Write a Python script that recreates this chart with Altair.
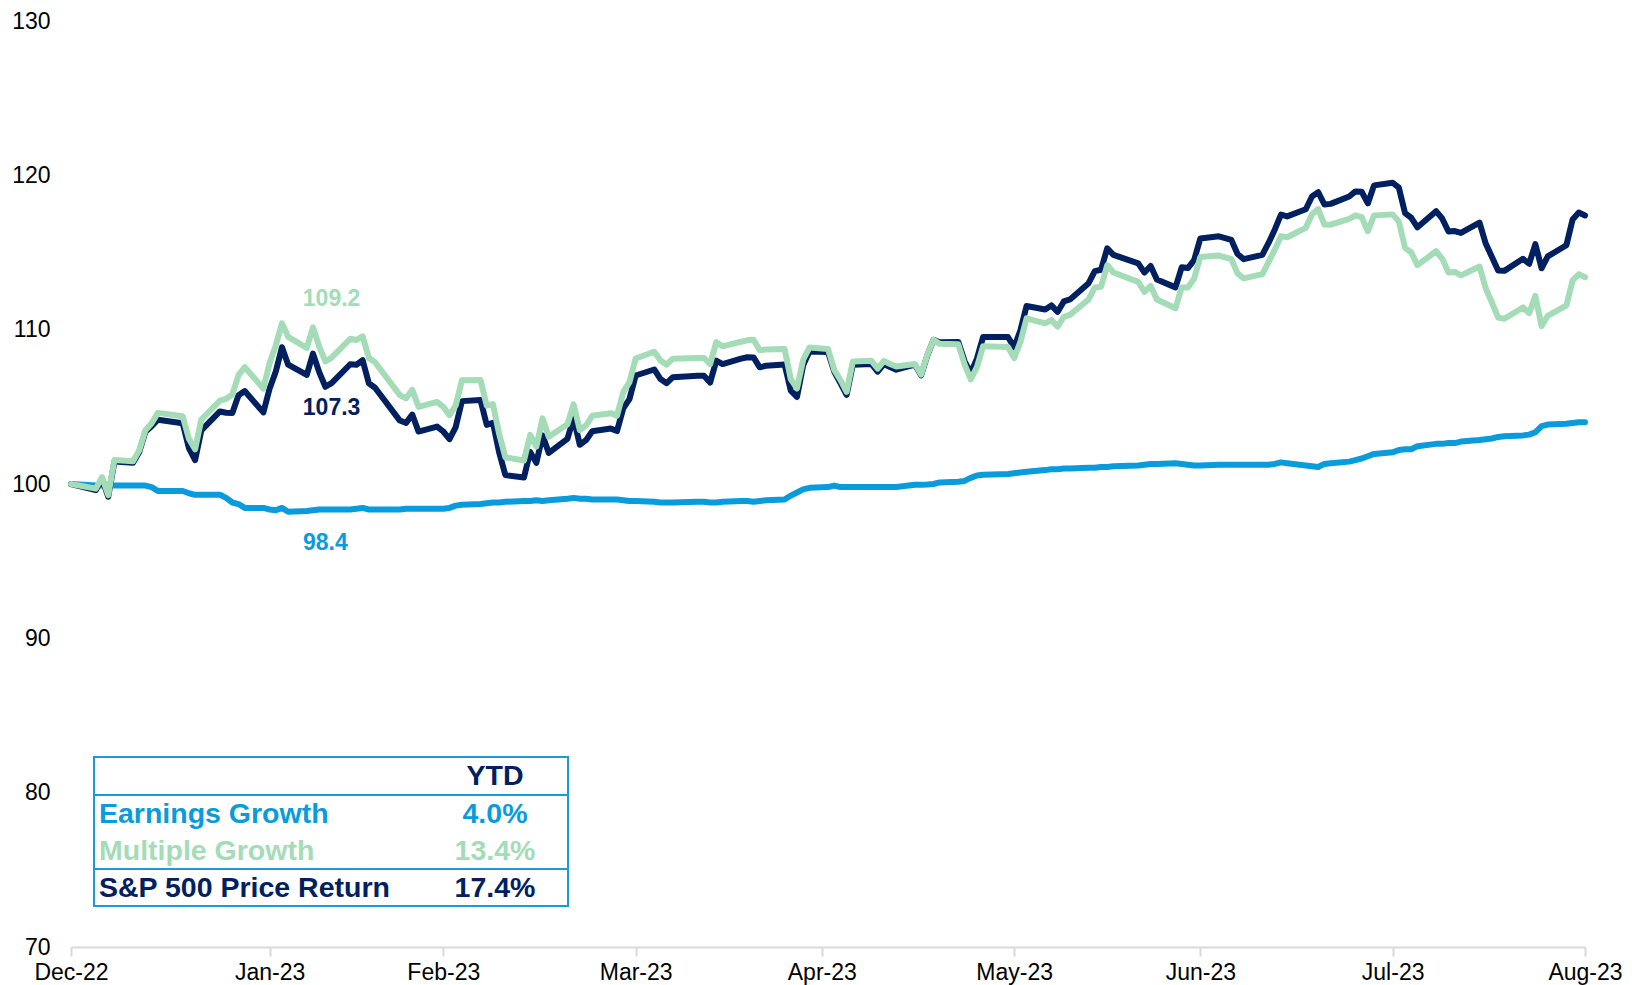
import pandas as pd
import altair as alt

NAVY = "#002060"
GREEN = "#a3dcb7"
BLUE = "#0a9bdc"
FONT = "Liberation Sans"

# ---- trading days (NYSE) 30-Dec-2022 .. 31-Aug-2023 ----
holidays = ["2023-01-02", "2023-01-16", "2023-02-20", "2023-04-07",
            "2023-05-29", "2023-06-19", "2023-07-04"]
dates = [d.strftime("%Y-%m-%d") for d in pd.bdate_range("2022-12-30", "2023-08-31")
         if d.strftime("%Y-%m-%d") not in holidays]

# ---- S&P 500 price return index (navy) ----
price_dec = [100.0]
price_jan = [99.60, 100.35, 99.18, 101.45, 101.37, 102.08, 103.39, 103.74, 104.16, 103.94,
             102.33, 101.55, 103.47, 104.70, 104.62, 104.60, 105.75, 106.02, 104.64, 106.17]
price_feb = [107.28, 108.86, 107.73, 107.07, 108.45, 107.25, 106.30, 106.54, 107.76, 107.73,
             108.02, 106.53, 106.24, 104.11, 103.95, 104.50, 103.40, 103.72, 103.40]
price_mar = [102.91, 103.69, 105.37, 105.44, 103.83, 103.97, 102.05, 100.58, 100.42, 102.08,
             101.37, 103.15, 102.01, 102.92, 104.26, 102.54, 102.84, 103.42, 103.59, 103.43,
             104.90, 105.50, 107.03]
price_apr = [107.42, 106.80, 106.53, 106.92, 107.02, 107.02, 106.57, 107.99, 107.77, 108.12,
             108.21, 108.20, 107.56, 107.66, 107.75, 106.05, 105.64, 107.70, 108.59]
price_may = [108.55, 107.29, 106.54, 105.77, 107.73, 107.78, 107.28, 107.77, 107.58, 107.41,
             107.73, 107.04, 108.32, 109.34, 109.18, 109.20, 107.97, 107.18, 108.12, 109.53,
             109.53, 108.86]
price_jun = [109.94, 111.53, 111.31, 111.57, 111.15, 111.83, 111.96, 113.01, 113.79, 113.88,
             115.27, 114.85, 114.30, 113.70, 114.13, 113.25, 112.74, 114.04, 113.99, 114.50,
             115.91]
price_jul = [116.05, 115.82, 114.90, 114.57, 114.85, 115.62, 116.48, 117.46, 117.34, 117.80,
             118.63, 118.91, 118.11, 118.15, 118.63, 118.96, 118.94, 118.18, 119.35, 119.52]
price_aug = [119.20, 117.55, 117.25, 116.63, 117.68, 117.19, 116.36, 116.39, 116.27, 116.94,
             115.58, 114.71, 113.83, 113.81, 114.59, 114.27, 115.54, 113.98, 114.75, 115.47,
             117.14, 117.59, 117.40]

# ---- Earnings growth index (blue) ----
earn_dec = [100.0]
earn_jan = [99.9, 99.9, 99.9, 99.9, 99.9, 99.9, 99.9, 99.8, 99.55, 99.55,
            99.4, 99.3, 99.3, 99.3, 99.1, 98.8, 98.7, 98.45, 98.45, 98.35]
earn_feb = [98.3, 98.45, 98.2, 98.25, 98.3, 98.35, 98.35, 98.35, 98.35, 98.4,
            98.45, 98.35, 98.35, 98.35, 98.4, 98.4, 98.4, 98.4, 98.4]
earn_mar = [98.45, 98.6, 98.65, 98.7, 98.75, 98.8, 98.8, 98.85, 98.9, 98.9,
            98.95, 98.9, 98.95, 99.05, 99.1, 99.05, 99.05, 99.0, 99.0, 99.0,
            98.95, 98.9, 98.9]
earn_apr = [98.85, 98.8, 98.8, 98.8, 98.85, 98.85, 98.8, 98.8, 98.85, 98.9,
            98.9, 98.85, 98.9, 98.95, 99.0, 99.25, 99.45, 99.65, 99.75]
earn_may = [99.8, 99.9, 99.8, 99.8, 99.8, 99.8, 99.8, 99.8, 99.8, 99.8,
            99.95, 99.95, 99.97, 100.0, 100.1, 100.15, 100.2, 100.4, 100.55, 100.6,
            100.65, 100.7]
earn_jun = [100.75, 100.8, 100.9, 100.95, 100.95, 101.0, 101.0, 101.05, 101.05, 101.1,
            101.1, 101.15, 101.2, 101.25, 101.3, 101.3, 101.35, 101.3, 101.25, 101.2,
            101.2]
earn_jul = [101.25, 101.25, 101.25, 101.25, 101.25, 101.25, 101.3, 101.4, 101.35, 101.2,
            101.15, 101.1, 101.3, 101.35, 101.45, 101.55, 101.65, 101.8, 101.95, 102.05]
earn_aug = [102.2, 102.25, 102.25, 102.45, 102.6, 102.6, 102.65, 102.65, 102.75, 102.85,
            102.9, 102.95, 103.05, 103.1, 103.15, 103.2, 103.35, 103.75, 103.85, 103.9,
            103.95, 104.0, 104.0]

# ---- Multiple growth index (green) ----
mult_dec = [100.0]
mult_jan = [99.70, 100.45, 99.28, 101.55, 101.47, 102.18, 103.49, 103.94, 104.61, 104.39,
            102.93, 102.25, 104.17, 105.40, 105.52, 105.80, 107.05, 107.57, 106.19, 107.82]
mult_feb = [108.98, 110.41, 109.53, 108.82, 110.15, 108.90, 107.95, 108.19, 109.41, 109.33,
            109.57, 108.18, 107.89, 105.76, 105.55, 106.10, 105.00, 105.32, 105.00]
mult_mar = [104.46, 105.09, 106.72, 106.74, 105.08, 105.17, 103.25, 101.73, 101.52, 103.18,
            102.42, 104.25, 103.06, 103.87, 105.16, 103.49, 103.79, 104.42, 104.59, 104.43,
            105.95, 106.60, 108.13]
mult_apr = [108.57, 108.00, 107.73, 108.12, 108.17, 108.17, 107.77, 109.19, 108.92, 109.22,
            109.31, 109.35, 108.66, 108.71, 108.75, 106.80, 106.19, 108.05, 108.84]
mult_may = [108.75, 107.39, 106.74, 105.97, 107.93, 107.98, 107.48, 107.97, 107.78, 107.61,
            107.78, 107.09, 108.35, 109.34, 109.08, 109.05, 107.77, 106.78, 107.57, 108.93,
            108.88, 108.16]
mult_jun = [109.19, 110.73, 110.41, 110.62, 110.20, 110.83, 110.96, 111.96, 112.74, 112.78,
            114.17, 113.70, 113.10, 112.45, 112.83, 111.95, 111.39, 112.74, 112.74, 113.30,
            114.71]
mult_jul = [114.80, 114.57, 113.65, 113.32, 113.60, 114.37, 115.18, 116.06, 115.99, 116.60,
            117.48, 117.81, 116.81, 116.80, 117.18, 117.41, 117.29, 116.38, 117.40, 117.47]
mult_aug = [117.00, 115.30, 115.00, 114.18, 115.08, 114.59, 113.71, 113.74, 113.52, 114.09,
            112.68, 111.76, 110.78, 110.71, 111.44, 111.07, 112.19, 110.23, 110.90, 111.57,
            113.19, 113.59, 113.40]

price = price_dec + price_jan + price_feb + price_mar + price_apr + price_may + price_jun + price_jul + price_aug
earn = earn_dec + earn_jan + earn_feb + earn_mar + earn_apr + earn_may + earn_jun + earn_jul + earn_aug
mult = mult_dec + mult_jan + mult_feb + mult_mar + mult_apr + mult_may + mult_jun + mult_jul + mult_aug
assert len(dates) == len(price) == len(earn) == len(mult), (len(dates), len(price), len(earn), len(mult))

SERIES = ["Earnings Growth", "Multiple Growth", "S&P 500 Price Return"]
COLORS = [BLUE, GREEN, NAVY]

# annotations
ann_dates = ["2023-02-10", "2023-02-10", "2023-02-09"]
ann_values = [112.0, 104.9, 96.2]
ann_text = ["109.2", "107.3", "98.4"]
ann_series = ["Multiple Growth", "S&P 500 Price Return", "Earnings Growth"]

# YTD table
table_labels = ["", "Earnings Growth", "Multiple Growth", "S&P 500 Price Return"]
table_values = ["YTD", "4.0%", "13.4%", "17.4%"]
table_colors = [NAVY, BLUE, GREEN, NAVY]

tick_dates = [(2022, 12, 30), (2023, 1, 31), (2023, 2, 28), (2023, 3, 31), (2023, 4, 30),
              (2023, 5, 31), (2023, 6, 30), (2023, 7, 31), (2023, 8, 31)]
y_ticks = [70, 80, 90, 100, 110, 120, 130]

df = pd.concat([
    pd.DataFrame({"date": dates, "value": earn, "series": SERIES[0]}),
    pd.DataFrame({"date": dates, "value": mult, "series": SERIES[1]}),
    pd.DataFrame({"date": dates, "value": price, "series": SERIES[2]}),
])

xscale = alt.Scale(type="utc", nice=False,
                   domain=[alt.DateTime(year=2022, month=12, date=30, utc=True),
                           alt.DateTime(year=2023, month=8, date=31, utc=True)])
xaxis = alt.Axis(values=[alt.DateTime(year=y, month=m, date=d, utc=True) for (y, m, d) in tick_dates],
                 labelExpr="utcFormat(datum.value, '%b-%y')", title=None, grid=False,
                 domainColor="#d9d9d9", domainWidth=2, tickColor="#d9d9d9", tickWidth=2,
                 tickSize=9, labelPadding=5, labelFontSize=23, labelColor="black",
                 labelFont=FONT, labelFlush=False, labelOverlap=False, labelBound=False)
yscale = alt.Scale(domain=[70, 130], nice=False, zero=False)
yaxis = alt.Axis(values=y_ticks, title=None, grid=False, domain=False,
                 ticks=False, tickSize=0, labelPadding=21, labelFontSize=23, labelColor="black",
                 labelFont=FONT, labelFlush=False)
cscale = alt.Scale(domain=SERIES, range=COLORS)

X = alt.X("date:T", scale=xscale, axis=xaxis)
Y = alt.Y("value:Q", scale=yscale, axis=yaxis)
C = alt.Color("series:N", scale=cscale, legend=None)

def line_layer(name):
    return alt.Chart(df[df["series"] == name]).mark_line(
        strokeWidth=6, strokeJoin="round", strokeCap="round").encode(x=X, y=Y, color=C)

layers = [line_layer(SERIES[0]), line_layer(SERIES[2]), line_layer(SERIES[1])]

ann_df = pd.DataFrame({"date": ann_dates, "value": ann_values, "text": ann_text, "series": ann_series})
layers.append(alt.Chart(ann_df).mark_text(font=FONT, fontSize=23, fontWeight="bold", baseline="middle").encode(
    x=X, y=Y, text="text:N", color=C))

# table (positions in plot-area pixels)
one = pd.DataFrame({"k": [0]})
box_left, box_right, box_top, box_bottom = 23, 497, 736, 885
layers.append(alt.Chart(one).mark_rect(fill="white", fillOpacity=1, stroke="#1a9ad8", strokeWidth=2).encode(
    x=alt.value(box_left), x2=alt.value(box_right), y=alt.value(box_top), y2=alt.value(box_bottom)))
for sep_y in [774, 848]:
    layers.append(alt.Chart(one).mark_rule(stroke="#1a9ad8", strokeWidth=2).encode(
        x=alt.value(box_left), x2=alt.value(box_right), y=alt.value(sep_y)))
row_y = [755, 793, 830, 867]
for lbl, val, col, yy in zip(table_labels, table_values, table_colors, row_y):
    tdf = pd.DataFrame({"label": [lbl], "val": [val]})
    if lbl:
        layers.append(alt.Chart(tdf).mark_text(font=FONT, fontSize=28.5, fontWeight="bold", align="left",
                                              baseline="middle", color=col).encode(
            x=alt.value(28), y=alt.value(yy), text="label:N"))
    layers.append(alt.Chart(tdf).mark_text(font=FONT, fontSize=28.5, fontWeight="bold", align="center",
                                          baseline="middle", color=col).encode(
        x=alt.value(424), y=alt.value(yy), text="val:N"))

chart = alt.layer(*layers).properties(
    width=1514, height=926,
    autosize=alt.AutoSizeParams(type="none"),
    padding={"left": 63, "top": 13, "right": 39, "bottom": 40},
).configure(background="white").configure_view(strokeWidth=0, stroke="transparent")

chart.save("out.html", embed_options={"renderer": "svg", "actions": False})
